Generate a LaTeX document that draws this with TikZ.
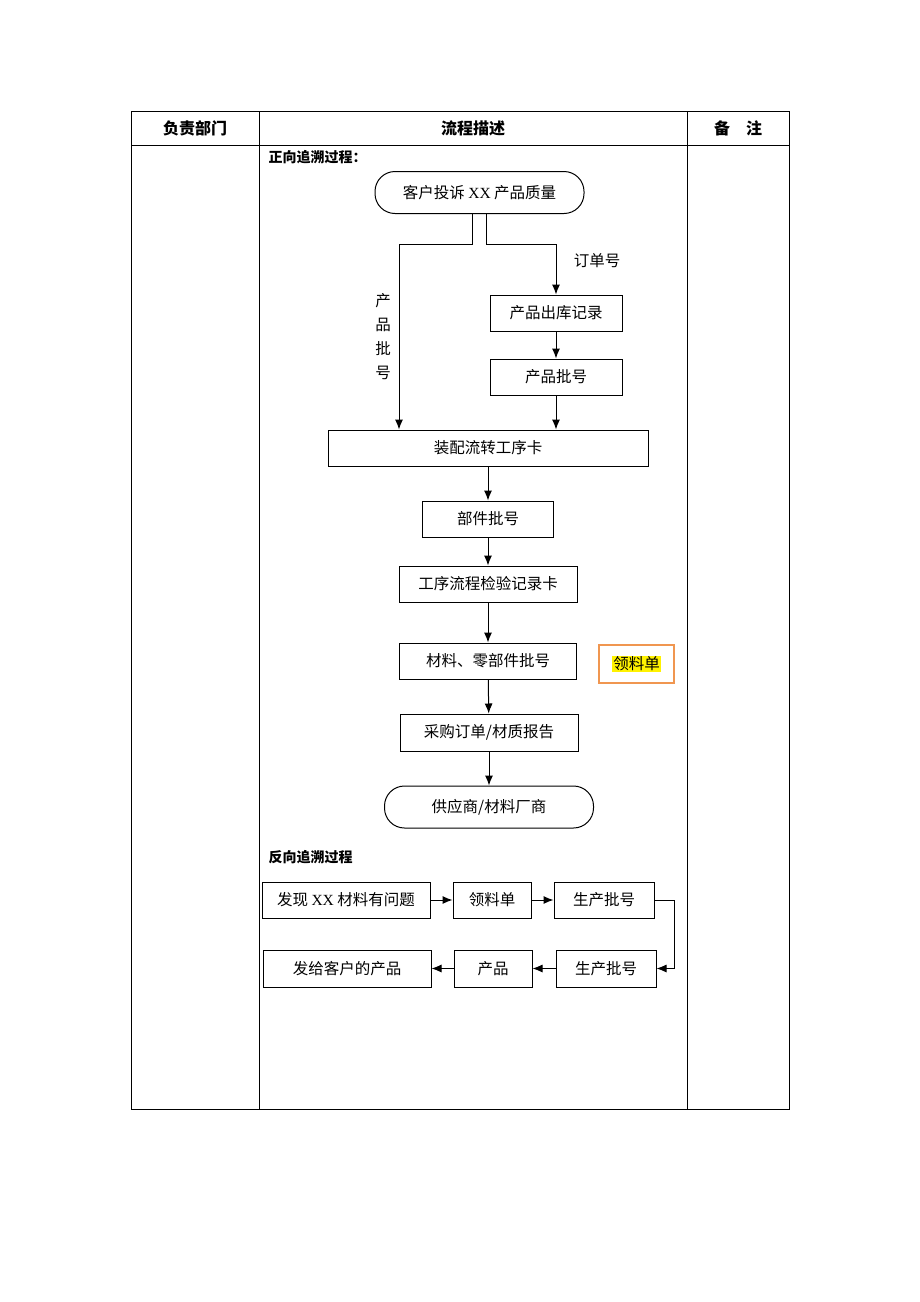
\documentclass[tikz,border=0pt]{standalone}
\usepackage{fontspec}
\setmainfont{Liberation Serif}
\newfontfamily\cjk{Noto Sans CJK SC}
\usetikzlibrary{arrows.meta,calc}
\definecolor{boxorange}{RGB}{240,150,80}
\newcommand{\xx}{{\rmfamily XX}}
\tikzset{
  box/.style={draw, minimum height=36, inner sep=0pt, font=\cjk\fontsize{15.5}{18}\selectfont},
  oval/.style={box, rounded corners=20, minimum height=42, minimum width=209},
  lbl/.style={inner sep=0pt, font=\cjk\fontsize{15.5}{18}\selectfont},
  head/.style={inner sep=0pt, font=\cjk\bfseries\fontsize{16}{19}\selectfont},
  sub/.style={inner sep=0pt, anchor=west, font=\cjk\bfseries\fontsize{14}{17}\selectfont},
  arr/.style={-{Latex[length=10pt,width=8pt]}, line width=1pt},
}
\begin{document}
\begin{tikzpicture}[x=1pt, y=-1pt, line width=1pt]
    \useasboundingbox (0, 0) rectangle (920, 1302);
    \fill[white] (0, 0) rectangle (920, 1302);

    \draw[line width=0.8pt] (131, 111) rectangle (789, 1109);
    \draw[line width=0.8pt] (259, 111) -- (259, 1109);
    \draw[line width=0.8pt] (687, 111) -- (687, 1109);
    \draw[line width=0.8pt] (131, 145) -- (789, 145);
    \node[head] (hdept) at (195, 128) {负责部门};
    \node[head] (hdesc) at (473, 128) {流程描述};
    \node[head] (hnote) at (738, 128) {备\hspace{1em}注};

    \node[sub] (fwd) at (268, 157) {正向追溯过程：};
    \node[oval] (start) at (479.5, 192.5) {客户投诉 \xx{} 产品质量};
    \node[box, minimum width=132] (out) at (556, 313) {产品出库记录};
    \node[box, minimum width=132] (lot) at (556, 377) {产品批号};
    \node[box, minimum width=320] (asm) at (488, 448) {装配流转工序卡};
    \node[box, minimum width=131] (part) at (488, 519) {部件批号};
    \node[box, minimum width=178] (insp) at (488, 584) {工序流程检验记录卡};
    \node[box, minimum width=177] (mat) at (488, 661) {材料、零部件批号};
    \node[box, minimum width=178, minimum height=37] (po) at (489, 732.5) {采购订单/材质报告};
    \node[oval] (supp) at (489, 807) {供应商/材料厂商};
    \node[draw=boxorange, line width=2.5pt, minimum width=75, minimum height=38, inner sep=0pt,
          font=\cjk\fontsize{15.5}{18}\selectfont] (pick) at (636.5, 664)
          {\setlength{\fboxsep}{1pt}\colorbox{yellow}{领料单}};

    \node[lbl] (ordno) at (597, 261) {订单号};
    \node[lbl, align=center, font=\cjk\fontsize{15.5}{24}\selectfont] (lotno) at (383, 337) {产\\品\\批\\号};

    \coordinate (kL) at (399, 244);
    \coordinate (kR) at (556, 244);
    \draw[arr] ($(start.south)+(-7, 0)$) |- (kL) -- (kL |- asm.north);
    \draw[arr] ($(start.south)+(7, 0)$) |- (kR) -- (out.north);
    \draw[arr] (out) -- (lot);
    \draw[arr] (lot.south) -- (lot.south |- asm.north);
    \draw[arr] (asm) -- (part);
    \draw[arr] (part) -- (insp);
    \draw[arr] (insp) -- (mat);
    \draw[arr] (mat) -- (po);
    \draw[arr] (po) -- (supp);

    \node[sub] (bwd) at (268, 857) {反向追溯过程};
    \node[box, minimum width=168] (find) at (346, 900) {发现 \xx{} 材料有问题};
    \node[box, minimum width=78] (slip) at (492, 900) {领料单};
    \node[box, minimum width=100] (prodA) at (604, 900) {生产批号};
    \node[box, minimum width=100, minimum height=37] (prodB) at (606, 968.5) {生产批号};
    \node[box, minimum width=78, minimum height=37] (prod) at (493, 968.5) {产品};
    \node[box, minimum width=168, minimum height=37] (cust) at (347, 968.5) {发给客户的产品};

    \draw[arr] (find) -- (slip);
    \draw[arr] (slip) -- (prodA);
    \draw[arr] (prodA.east) -- ++(20, 0) |- (prodB.east);
    \draw[arr] (prodB) -- (prod);
    \draw[arr] (prod) -- (cust);
\end{tikzpicture}
\end{document}
